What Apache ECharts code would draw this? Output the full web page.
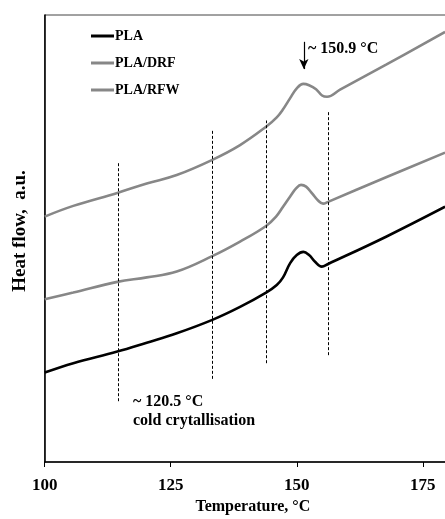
<!DOCTYPE html>
<html>
<head>
<meta charset="utf-8">
<script src="https://cdn.jsdelivr.net/npm/echarts@6/dist/echarts.min.js"></script>
<style>html,body{margin:0;padding:0;background:#fff;}#chart{width:445px;height:519px;}</style>
</head>
<body>
<div id="chart"></div>
<script>
// Temperature (°C) sample positions and heat flow (a.u.) per series
const plaT = [100, 105.67, 114.40, 120.24, 126.19, 133.25, 138.75, 143.91, 146.03, 147.28, 148.69, 150.0, 151.31, 152.44, 153.63, 154.96, 156.21, 167.72, 179.42];
const plaV = [20.0, 22.1, 24.7, 26.7, 28.8, 31.8, 34.7, 37.9, 39.6, 41.3, 44.5, 46.3, 47.0, 46.3, 44.8, 43.7, 44.3, 50.4, 57.1];
const drfT = [100, 105.67, 114.40, 120.24, 126.19, 133.33, 138.75, 143.91, 145.89, 147.28, 148.69, 149.86, 150.85, 151.85, 153.04, 154.23, 155.22, 156.21, 167.72, 179.42];
const drfV = [36.4, 37.9, 40.3, 41.3, 42.6, 46.1, 49.3, 52.8, 54.9, 57.1, 59.4, 61.2, 62.0, 61.6, 60.1, 58.5, 57.8, 58.2, 63.7, 69.2];
const rfwT = [100, 105.67, 114.40, 120.24, 126.19, 133.25, 138.75, 143.91, 146.03, 147.28, 148.69, 150.0, 151.31, 152.44, 153.83, 155.02, 156.01, 158.59, 167.72, 179.42];
const rfwV = [54.9, 57.3, 60.2, 62.3, 64.2, 67.6, 70.9, 75.0, 77.1, 78.9, 81.4, 83.6, 84.6, 84.3, 83.4, 82.0, 81.7, 83.3, 88.9, 96.2];
const seriesNames = ['PLA', 'PLA/DRF', 'PLA/RFW'];
// Dashed guide lines: temperature, bottom value, top value
const guideT = [114.54, 133.33, 143.91, 156.27];
const guideBottom = [13.6, 18.6, 22.1, 23.9];
const guideTop = [66.9, 74.1, 76.4, 78.3];
// Peak arrow
const arrowT = 151.4;
const arrowFrom = 94.0;
const arrowTo = 87.9;
const xTicks = [100, 125, 150, 175];

const zip = (t, v) => t.map((x, i) => [x, v[i]]);
const font = 'Liberation Serif, Times New Roman, serif';

const chart = echarts.init(document.getElementById('chart'));
chart.setOption({
  animation: false,
  backgroundColor: '#fff',
  grid: { left: 44.7, top: 15, right: -3, bottom: 57, show: true, borderColor: '#444', borderWidth: 1, backgroundColor: 'transparent',
    containLabel: false, outerBoundsMode: 'none' },
  legend: {
    orient: 'vertical', left: 91, top: 29, padding: 0, itemWidth: 23, itemHeight: 3, itemGap: 13, icon: 'rect',
    data: seriesNames,
    textStyle: { fontFamily: font, fontWeight: 'bold', fontSize: 14, color: '#000', lineHeight: 14, padding: [0, 0, 0, -4] }
  },
  xAxis: {
    type: 'value', min: 100, max: 180, interval: 25,
    name: 'Temperature, °C', nameLocation: 'middle', nameGap: 35,
    nameTextStyle: { fontFamily: font, fontWeight: 'bold', fontSize: 16, color: '#000', padding: [0, 0, 0, 13] },
    axisLine: { show: true, lineStyle: { color: '#000', width: 1.5 } },
    axisTick: { show: true, inside: false, length: 5, lineStyle: { color: '#000', width: 1 } },
    axisLabel: { showMaxLabel: false, margin: 15, fontFamily: font, fontWeight: 'bold', fontSize: 17, color: '#000',
      formatter: v => xTicks.includes(v) ? String(v) : '' },
    splitLine: { show: false }
  },
  yAxis: {
    type: 'value', min: 0, max: 100,
    name: 'Heat flow,  a.u.', nameLocation: 'middle', nameGap: 15,
    nameTextStyle: { fontFamily: font, fontWeight: 'bold', fontSize: 19, color: '#000', padding: [0, 0, 0, 15] },
    axisLine: { show: true, lineStyle: { color: '#000', width: 1.5 } },
    axisTick: { show: false }, axisLabel: { show: false }, splitLine: { show: false }
  },
  series: [
    { name: seriesNames[0], type: 'line', data: zip(plaT, plaV), smooth: 0.4, symbol: 'none',
      lineStyle: { color: '#000', width: 2.6 }, itemStyle: { color: '#000' }, z: 5,
      markLine: {
        silent: true, symbol: 'none', label: { show: false },
        lineStyle: { color: '#000', width: 1, type: [3, 2] },
        data: guideT.map((t, i) => [{ coord: [t, guideBottom[i]] }, { coord: [t, guideTop[i]] }])
      }
    },
    { name: seriesNames[1], type: 'line', data: zip(drfT, drfV), smooth: 0.4, symbol: 'none',
      lineStyle: { color: '#878787', width: 2.6 }, itemStyle: { color: '#878787' }, z: 4 },
    { name: seriesNames[2], type: 'line', data: zip(rfwT, rfwV), smooth: 0.4, symbol: 'none',
      lineStyle: { color: '#878787', width: 2.6 }, itemStyle: { color: '#878787' }, z: 4,
      markLine: {
        silent: true, symbol: ['none', 'arrow'], symbolSize: [7, 10], label: { show: false },
        lineStyle: { color: '#000', width: 1.2, type: 'solid' },
        data: [[{ coord: [arrowT, arrowFrom] }, { coord: [arrowT, arrowTo] }]]
      }
    }
  ],
  graphic: [
    { type: 'text', left: 308, top: 41, style: { text: '~ 150.9 °C', font: 'bold 16px ' + font, fill: '#000' } },
    { type: 'text', left: 133, top: 394, style: { text: '~ 120.5 °C', font: 'bold 16px ' + font, fill: '#000' } },
    { type: 'text', left: 133, top: 413, style: { text: 'cold crytallisation', font: 'bold 16px ' + font, fill: '#000' } }
  ]
});
</script>
</body>
</html>
